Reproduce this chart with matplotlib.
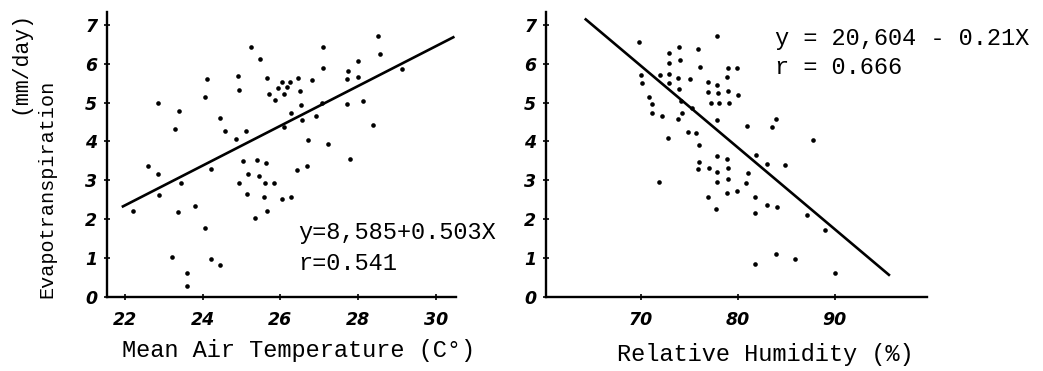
import matplotlib
matplotlib.use("Agg")
import matplotlib.pyplot as plt

# ---- data: left panel (temperature vs ET) ----
temp_x = [22.21, 22.60, 22.85, 22.87, 22.85, 23.30, 23.39, 23.45, 23.36, 23.22,
          23.59, 23.61, 23.80, 24.06, 24.21, 24.45, 24.05, 24.12, 24.21, 24.45,
          24.57, 24.87, 24.92, 24.93, 24.93, 25.11, 25.24, 25.47, 25.04, 25.14,
          25.18, 25.41, 25.45, 25.62, 25.60, 25.59, 25.65, 25.35, 25.84, 26.03,
          26.28, 25.65, 25.70, 25.87, 25.95, 26.05, 26.09, 26.17, 26.26, 26.45,
          26.50, 26.28, 26.52, 26.10, 26.56, 26.82, 26.91, 26.72, 26.44, 26.68,
          27.09, 27.10, 27.06, 27.23, 27.71, 27.75, 27.99, 28.00, 27.71, 28.12,
          27.78, 28.39, 28.52, 28.56, 29.12]
temp_y = [2.22, 3.38, 3.17, 2.63, 4.98, 4.32, 4.78, 2.93, 2.19, 1.04,
          0.61, 0.28, 2.35, 1.77, 0.97, 0.82, 5.15, 5.61, 3.29, 4.60,
          4.27, 4.06, 5.69, 5.33, 2.94, 4.27, 6.44, 6.13, 3.50, 2.65,
          3.17, 3.53, 3.12, 3.44, 2.94, 2.57, 2.20, 2.04, 2.94, 2.51,
          2.57, 5.63, 5.22, 5.07, 5.37, 5.54, 5.22, 5.41, 5.54, 5.64,
          5.31, 4.74, 4.95, 4.38, 4.55, 5.58, 4.66, 4.04, 3.27, 3.38,
          6.42, 5.90, 5.00, 3.94, 5.60, 5.82, 6.08, 5.67, 4.97, 5.05,
          3.56, 4.43, 6.70, 6.25, 5.86]
temp_line_x = [21.95, 30.45]
temp_line_y = [2.33, 6.68]
temp_eq = "y=8,585+0.503X"
temp_r = "r=0.541"
temp_ticks = [22, 24, 26, 28, 30]

# ---- data: right panel (humidity vs ET) ----
hum_x = [69.83, 69.97, 70.07, 70.82, 71.17, 71.17, 72.13, 71.99, 72.75, 71.82,
         72.85, 72.92, 73.88, 74.02, 72.92, 72.92, 73.85, 73.95, 75.05, 74.12,
         74.19, 73.85, 75.22, 74.88, 75.67, 76.01, 75.91, 76.08, 75.98, 75.91,
         76.87, 76.87, 77.80, 77.97, 77.22, 78.04, 77.80, 77.87, 78.90, 78.93,
         79.86, 79.00, 79.11, 80.03, 78.83, 77.87, 76.98, 77.80, 79.00, 77.80,
         79.00, 76.87, 77.73, 78.90, 79.90, 80.89, 81.07, 80.82, 81.86, 81.79,
         81.79, 83.02, 82.96, 83.99, 83.54, 83.88, 84.85, 87.77, 87.08, 88.97,
         90.00, 83.92, 85.88, 81.79]
hum_y = [6.57, 5.71, 5.50, 5.15, 4.97, 4.73, 4.66, 5.71, 4.08, 2.97,
         6.01, 6.27, 6.44, 6.10, 5.74, 5.50, 5.63, 5.34, 5.60, 5.03,
         4.73, 4.57, 4.85, 4.25, 4.21, 3.91, 6.37, 5.91, 3.48, 3.29,
         5.54, 5.26, 5.45, 5.24, 5.00, 5.00, 6.72, 4.55, 5.65, 5.88,
         5.88, 5.31, 4.98, 5.20, 3.54, 3.63, 3.31, 3.21, 3.33, 2.97,
         3.04, 2.56, 2.26, 2.67, 2.73, 4.40, 3.18, 2.92, 3.65, 2.58,
         2.17, 3.41, 2.37, 2.31, 4.38, 4.57, 3.40, 4.04, 2.11, 1.72,
         0.61, 1.11, 0.99, 0.84]
hum_line_x = [64.3, 95.57]
hum_line_y = [7.14, 0.57]
hum_eq = "y = 20,604 - 0.21X"
hum_r = "r = 0.666"
hum_ticks = [70, 80, 90]

y_ticks = [0, 1, 2, 3, 4, 5, 6, 7]

MONO = "Liberation Mono"
W, H = 1043, 371
fig = plt.figure(figsize=(W / 100, H / 100), dpi=100)
fig.patch.set_facecolor("white")

def px_rect(x0, x1, ytop, ybot):
    return [x0 / W, 1 - ybot / H, (x1 - x0) / W, (ybot - ytop) / H]

ax1 = fig.add_axes(px_rect(107, 456, 12, 297))
ax2 = fig.add_axes(px_rect(546, 927, 12, 297))

def style(ax, xlim, xticks):
    ax.set_xlim(*xlim)
    ax.set_ylim(0, 7.33)
    for s in ("top", "right"):
        ax.spines[s].set_visible(False)
    for s in ("left", "bottom"):
        ax.spines[s].set_linewidth(1.7)
        ax.spines[s].set_color("black")
    ax.set_xticks(xticks)
    ax.set_yticks(y_ticks)
    ax.tick_params(axis="both", direction="inout", length=4, width=1.2,
                   colors="black", labelsize=12.5)
    ax.tick_params(axis="x", pad=8)
    ax.tick_params(axis="y", pad=5)
    for lab in ax.get_xticklabels() + ax.get_yticklabels():
        lab.set_fontstyle("italic")
        lab.set_fontweight("bold")
    ax.set_facecolor("white")

style(ax1, (21.54, 30.52), temp_ticks)
style(ax2, (60.2, 99.5), hum_ticks)

ax1.scatter(temp_x, temp_y, s=11, color="black", linewidths=0)
ax1.plot(temp_line_x, temp_line_y, color="black", lw=1.9)
ax2.scatter(hum_x, hum_y, s=11, color="black", linewidths=0)
ax2.plot(hum_line_x, hum_line_y, color="black", lw=1.9)

ax1.text(26.45, 1.67, temp_eq, family=MONO, fontsize=17, va="center", ha="left")
ax1.text(26.45, 0.86, temp_r, family=MONO, fontsize=17, va="center", ha="left")
ax2.text(83.8, 6.66, hum_eq, family=MONO, fontsize=17, va="center", ha="left")
ax2.text(83.8, 5.89, hum_r, family=MONO, fontsize=17, va="center", ha="left")

fig.text(299 / W, 1 - 350 / H, "Mean Air Temperature (C°)", family=MONO,
         fontsize=17, ha="center", va="center")
fig.text(765 / W, 1 - 355 / H, "Relative Humidity (%)", family=MONO,
         fontsize=17, ha="center", va="center")
fig.text(47 / W, 1 - 189 / H, "Evapotranspiration", family=MONO,
         fontsize=14.5, ha="center", va="center", rotation=90)
fig.text(20 / W, 1 - 62 / H, "(mm/day)", family=MONO,
         fontsize=15.5, ha="center", va="center", rotation=90)

fig.savefig("out.png", dpi=100, facecolor="white")
